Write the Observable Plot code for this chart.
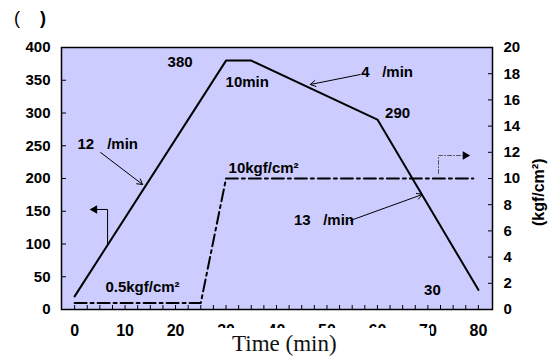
<!DOCTYPE html>
<html><head><meta charset="utf-8">
<script src="https://cdn.jsdelivr.net/npm/d3@7"></script>
<script src="https://cdn.jsdelivr.net/npm/@observablehq/plot@0.6"></script>
<style>
body{margin:0;background:#fff;}
#wrap{position:relative;width:554px;height:358px;overflow:hidden;font-family:"Liberation Sans",Arial,sans-serif;}
#wrap svg{position:absolute;left:0;top:0;}
#paren{position:absolute;left:14px;top:8px;font-size:18px;white-space:pre;color:#000;}
#xlab{position:absolute;left:205px;top:328px;width:225px;height:30px;background:#fff;font-family:"Liberation Serif","Times New Roman",serif;font-size:23px;line-height:24px;padding-left:27px;box-sizing:border-box;padding-top:4px;color:#111;}
</style></head>
<body><div id="wrap"><div id="paren"><span>(</span>    <b>)</b></div></div>
<script>
// temperature profile (left axis)
const tempTime = [0, 30, 35, 60, 80];
const tempValue = [20, 380, 380, 290, 30];
// pressure profile (right axis, kgf/cm2)
const presTime = [0, 25, 30, 79];
const presValue = [0.5, 0.5, 10, 10];
const presScale = 20; // 20 kgf/cm2 == 400 on left axis
// ticks
const leftTicks = d3.range(0, 401, 50);
const rightTicks = d3.range(0, 21, 2);
const xMajor = d3.range(0, 81, 10);
const xMinor = d3.range(0, 80.1, 2.5);
// annotations
const labelText = ["380", "10min", "4", "/min", "290", "12", "/min", "13", "/min", "30"];
const labelX = [20.9, 34.2, 57.6, 64.0, 64.0, 2.2, 9.5, 45.1, 52.3, 70.9];
const labelY = [377, 347, 362, 362, 299, 253, 253, 136, 136, 29];
const unitText = ["10kgf/cm²", "0.5kgf/cm²"];
const unitX = [30.5, 6.1];
const unitY = [215, 33.6];
// arrows: tail (x1,y1) -> head (x2,y2)
const arrowX1 = [5.15, 56.6, 54.65];
const arrowY1 = [239.7, 358.8, 135.9];
const arrowX2 = [13.47, 46.7, 68.9];
const arrowY2 = [190.8, 343.5, 175.6];
// axis pointer for temperature (left) and pressure (right)
const tPtrX = [6.53, 6.53, 3.96];
const tPtrY = [100.8, 152.7, 152.7];
const pPtrX = [72.1, 72.1, 77.4];
const pPtrY = [207.6, 235.1, 235.1];

const tempData = tempTime.map((t, i) => ({t, v: tempValue[i]}));
const presData = presTime.map((t, i) => ({t, v: presValue[i] * presScale}));
const labels = labelText.map((s, i) => ({s, x: labelX[i], y: labelY[i]}));
const units = unitText.map((s, i) => ({s, x: unitX[i], y: unitY[i]}));
const arrows = arrowX1.map((x1, i) => ({x1, y1: arrowY1[i], x2: arrowX2[i], y2: arrowY2[i]}));
const tPtr = tPtrX.map((x, i) => ({x, y: tPtrY[i]}));
const pPtr = pPtrX.map((x, i) => ({x, y: pPtrY[i]}));

const axFont = {fontSize: 15, fontWeight: "bold"};

const chart = Plot.plot({
  width: 554, height: 358,
  marginLeft: 61, marginRight: 62, marginTop: 47, marginBottom: 49,
  x: {domain: [-2.6, 82.8]},
  y: {domain: [0, 400]},
  style: {fontFamily: "Liberation Sans, Arial, sans-serif", fontWeight: "bold", color: "#000", background: "transparent"},
  marks: [
    Plot.frame({fill: "#ccccff"}),
    Plot.axisY({ticks: leftTicks, tickSize: -5, tickPadding: 16, label: null, ...axFont}),
    Plot.axisY({anchor: "right", ticks: rightTicks.map(d => d * presScale), tickFormat: d => d / presScale, tickSize: -5, tickPadding: 16, label: null, ...axFont}),
    Plot.axisX({ticks: xMinor, tickSize: -4, text: null, label: null}),
    Plot.axisX({ticks: xMajor, tickSize: 0, tickPadding: 15, label: null, fontSize: 16, fontWeight: "bold"}),
    Plot.line(presData, {x: "t", y: "v", stroke: "#000", strokeWidth: 2, strokeDasharray: "12,4,3,4"}),
    Plot.line(tempData, {x: "t", y: "v", stroke: "#000", strokeWidth: 2}),
    Plot.arrow(arrows, {x1: "x1", y1: "y1", x2: "x2", y2: "y2", stroke: "#000", strokeWidth: 1, headLength: 9}),
    Plot.line(tPtr, {x: "x", y: "y", stroke: "#000", strokeWidth: 1}),
    Plot.dot(tPtr.slice(2), {x: "x", y: "y", symbol: "triangle", r: 3.2, rotate: -90, fill: "#000", stroke: null}),
    Plot.line(pPtr, {x: "x", y: "y", stroke: "#555", strokeWidth: 1, strokeDasharray: "4,2,1,2"}),
    Plot.dot(pPtr.slice(2), {x: "x", y: "y", symbol: "triangle", r: 3.2, rotate: 90, fill: "#000", stroke: null}),
    Plot.text(labels, {x: "x", y: "y", text: "s", fontSize: 15, fontWeight: "bold", fill: "#000"}),
    Plot.text(units, {x: "x", y: "y", text: "s", fontSize: 15, fontWeight: "bold", fill: "#000", textAnchor: "start"}),
    Plot.frame({stroke: "#000", strokeWidth: 1.5}),
    Plot.text(["(kgf/cm²)"], {frameAnchor: "right", dx: 46, dy: -20, rotate: -90, fontSize: 16, fontWeight: "bold", fill: "#000"})
  ]
});
const wrap = document.getElementById("wrap");
wrap.appendChild(chart);
const xl = document.createElement("div");
xl.id = "xlab";
xl.textContent = "Time (min)";
wrap.appendChild(xl);
</script>
</body></html>
